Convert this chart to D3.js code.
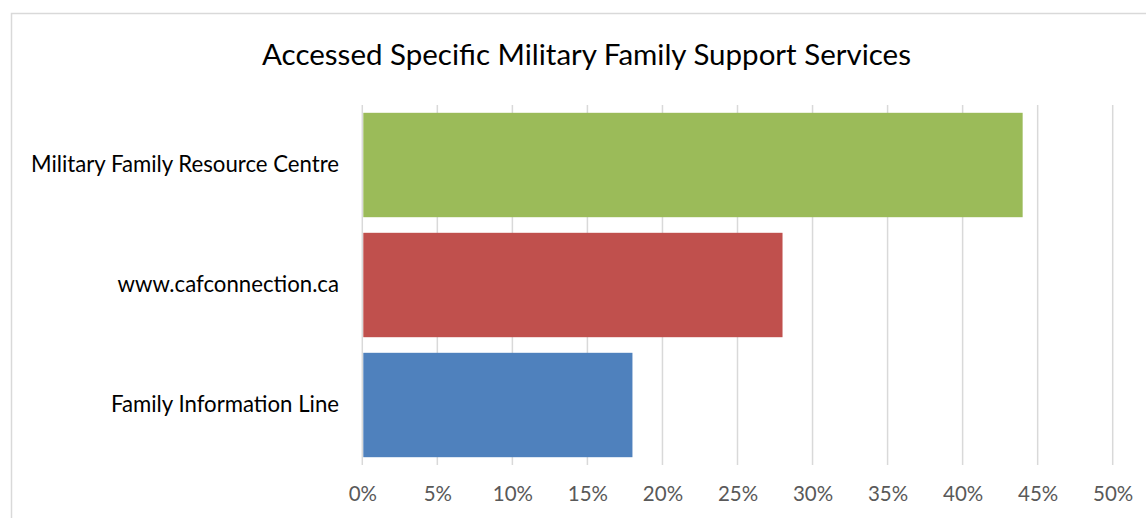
<!DOCTYPE html>
<html>
<head>
<meta charset="utf-8">
<script src="https://cdn.jsdelivr.net/npm/d3@7"></script>
<style>
  body { margin: 0; background: #fff; }
  text { font-family: Lato, "Open Sans", sans-serif; }
</style>
</head>
<body>
<script>
// chart data
var categories = ["Military Family Resource Centre", "www.cafconnection.ca", "Family Information Line"];
var values = [0.44, 0.28, 0.18];
var colors = ["#9BBB59", "#C0504D", "#4F81BD"];
var ticks = [0, 0.05, 0.1, 0.15, 0.2, 0.25, 0.3, 0.35, 0.4, 0.45, 0.5];
var title = "Accessed Specific Military Family Support Services";

var W = 1146, H = 518;
var svg = d3.select("body").append("svg")
    .attr("width", W)
    .attr("height", H);

// chart frame (cut off on the right and bottom)
svg.append("rect")
    .attr("x", 11.5).attr("y", 13.5)
    .attr("width", 1160).attr("height", 540)
    .attr("fill", "#fff")
    .attr("stroke", "#d9d9d9")
    .attr("stroke-width", 1.5);

var x = d3.scaleLinear().domain([0, 0.5]).range([362.3, 1112.7]);
var y = d3.scaleBand().domain(categories).range([105, 465]).paddingInner(0.13).paddingOuter(0.065);

// gridlines
svg.append("g").selectAll("line")
    .data(ticks)
    .join("line")
    .attr("x1", d => x(d)).attr("x2", d => x(d))
    .attr("y1", 105).attr("y2", 465)
    .attr("stroke", "#d9d9d9")
    .attr("stroke-width", 1.5);

// bars
svg.append("g").selectAll("rect")
    .data(categories)
    .join("rect")
    .attr("x", x(0) + 1)
    .attr("y", d => y(d))
    .attr("width", (d, i) => x(values[i]) - x(0) - 1)
    .attr("height", y.bandwidth())
    .attr("fill", (d, i) => colors[i]);

// x axis labels
var xAxis = d3.axisBottom(x).tickValues(ticks).tickFormat(d3.format(".0%")).tickSize(0).tickPadding(0);
var gx = svg.append("g").attr("transform", "translate(0,486)").call(xAxis);
gx.select(".domain").remove();
gx.selectAll("text")
    .attr("font-size", 20.5)
    .attr("fill", "#595959")
    .style("font-family", "Lato, 'Open Sans', sans-serif");

// category labels
var yAxis = d3.axisLeft(y).tickSize(0).tickPadding(0);
var gy = svg.append("g").attr("transform", "translate(339,0)").call(yAxis);
gy.select(".domain").remove();
gy.selectAll("text")
    .attr("font-size", 22.2)
    .attr("fill", "#000")
    .style("font-family", "Lato, 'Open Sans', sans-serif");

// title
svg.append("text")
    .attr("x", 586.5).attr("y", 65)
    .attr("text-anchor", "middle")
    .attr("font-size", 29.5)
    .attr("fill", "#000")
    .text(title);
</script>
</body>
</html>
